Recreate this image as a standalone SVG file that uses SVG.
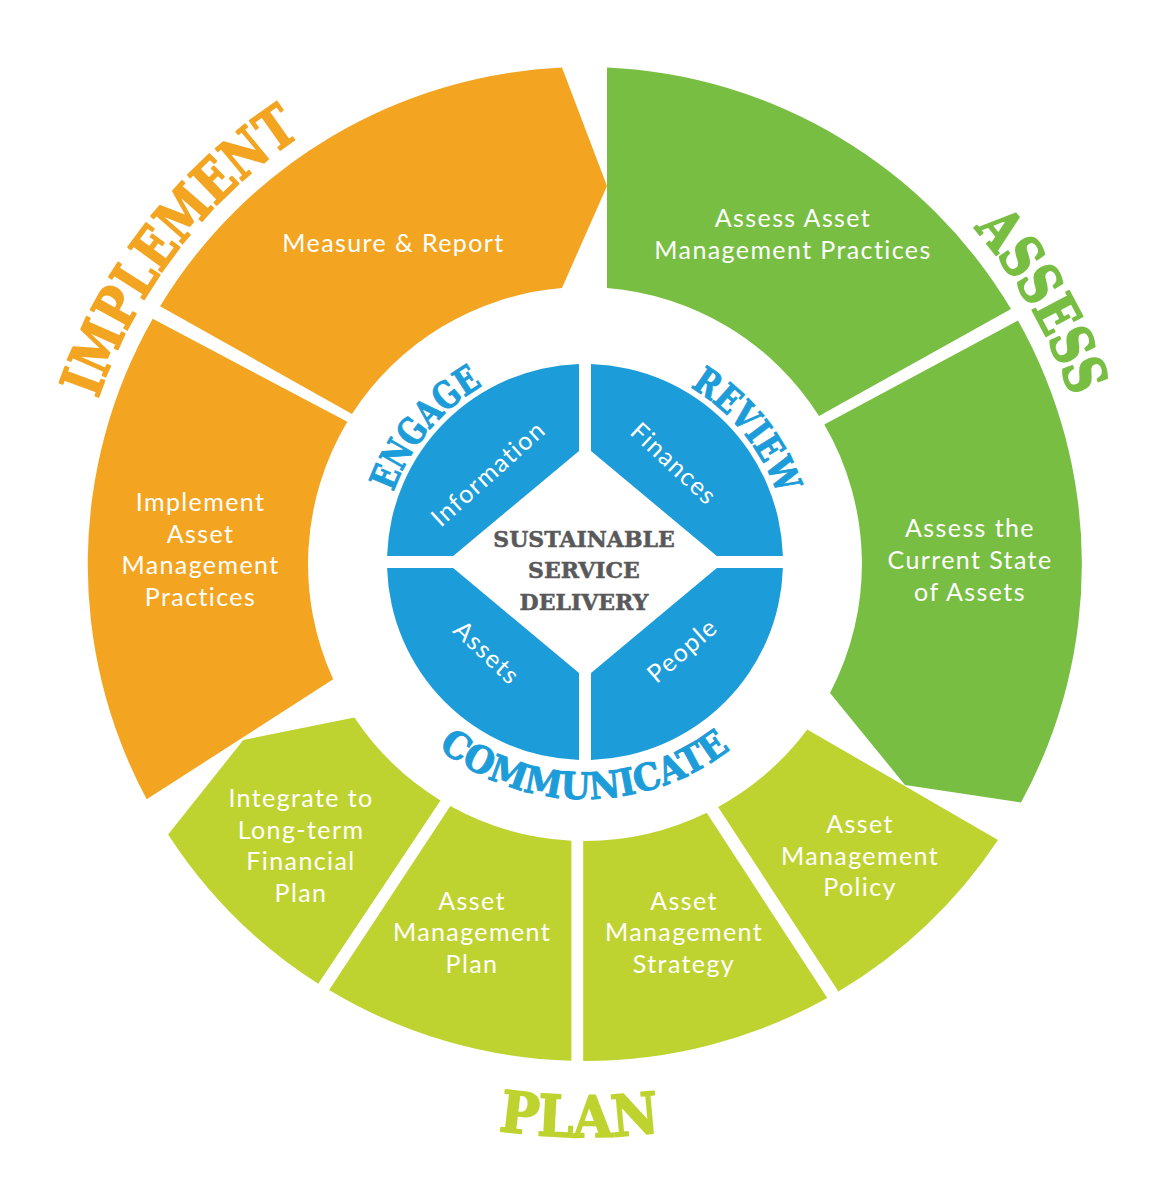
<svg xmlns="http://www.w3.org/2000/svg" width="1169" height="1183" viewBox="0 0 1169 1183">
<style>
.orange{fill:#F3A521}
.green{fill:#78BE43}
.lime{fill:#BFD330}
.blue{fill:#1C9CD8}
.lbl{font-family:Lato,"Open Sans","Liberation Sans",sans-serif;font-size:25px;fill:#fff;text-anchor:middle;letter-spacing:1.4px}
.slab{font-family:"DejaVu Serif","Liberation Serif",serif;font-weight:bold}
.big{font-size:57px;stroke-width:1.8px;stroke-linejoin:round}
.mid{font-size:37px;fill:#1C9CD8;stroke:#1C9CD8;stroke-width:1px;stroke-linejoin:round}
.core{font-size:22px;fill:#59595B;stroke:#59595B;stroke-width:0.5px;text-anchor:middle}
</style>
<defs>
<path id="arcImplement" d="M98,399 A514,514 0 0 1 301.3,135.4"/>
<path id="arcAssess" d="M974.1,228.2 A514,514 0 0 1 1071,396.6"/>
<path id="arcPlan" d="M389,1102.4 A573,573 0 0 0 781,1102.4"/>
<path id="arcEngage" d="M393.3,492.2 A204,204 0 0 1 483,385.3"/>
<path id="arcReview" d="M690.1,387.1 A204,204 0 0 1 777.9,495.6"/>
<path id="arcCommunicate" d="M438.1,748 A237,237 0 0 0 730.9,748.8"/>
</defs>
<rect width="1169" height="1183" fill="#fff"/>

<g id="implement-phase">
  <g id="measure-report">
    <path class="orange" d="M160.1,306.2 A497,497 0 0 1 562,67.5 L607,186 L562,288 A277,277 0 0 0 352,414 Z"/>
    <text class="lbl" x="393.5" y="252">Measure &amp; Report</text>
  </g>
  <g id="implement-practices">
    <path class="orange" d="M146.7,799.3 A497,497 0 0 1 152.7,318.8 L347.3,421.8 A277,277 0 0 0 333.2,679.3 Z"/>
    <text class="lbl" x="200.5" y="511"><tspan x="200.5">Implement</tspan><tspan x="200.5" dy="31.7">Asset</tspan><tspan x="200.5" dy="31.7">Management</tspan><tspan x="200.5" dy="31.7">Practices</tspan></text>
  </g>
  <text class="slab big" fill="#F3A521" stroke="#F3A521"><textPath href="#arcImplement" textLength="339" lengthAdjust="spacingAndGlyphs">IMPLEMENT</textPath></text>
</g>

<g id="assess-phase">
  <g id="assess-practices">
    <path class="green" d="M607,67.5 A497,497 0 0 1 1011,309 L819,416 A277,277 0 0 0 607,288 Z"/>
    <text class="lbl" x="793" y="226.6"><tspan x="793">Assess Asset</tspan><tspan x="793" dy="32">Management Practices</tspan></text>
  </g>
  <g id="assess-current-state">
    <path class="green" d="M1018,320.5 A497,497 0 0 1 1021,802.5 L905,785 L830,693 A277,277 0 0 0 824.3,424.6 Z"/>
    <text class="lbl" x="970" y="536.5"><tspan x="970">Assess the</tspan><tspan x="970" dy="32.3">Current State</tspan><tspan x="970" dy="32.3">of Assets</tspan></text>
  </g>
  <text class="slab big" fill="#78BE43" stroke="#78BE43"><textPath href="#arcAssess" textLength="196" lengthAdjust="spacingAndGlyphs">ASSESS</textPath></text>
</g>

<g id="plan-phase">
  <g id="am-policy">
    <path class="lime" d="M998,840 A497,497 0 0 1 838.4,991.5 L718.1,806.9 A277,277 0 0 0 807.2,729.4 Z"/>
    <text class="lbl" x="860" y="833.3"><tspan x="860">Asset</tspan><tspan x="860" dy="31.4">Management</tspan><tspan x="860" dy="31.4">Policy</tspan></text>
  </g>
  <g id="am-strategy">
    <path class="lime" d="M827.3,998 A497,497 0 0 1 583.2,1061 L583.2,841 A277,277 0 0 0 706.7,812.8 Z"/>
    <text class="lbl" x="684" y="909.6"><tspan x="684">Asset</tspan><tspan x="684" dy="31.7">Management</tspan><tspan x="684" dy="31.7">Strategy</tspan></text>
  </g>
  <g id="am-plan">
    <path class="lime" d="M571.4,1060.8 A497,497 0 0 1 329.1,990 L450.3,806.1 A277,277 0 0 0 571.4,840.7 Z"/>
    <text class="lbl" x="472" y="909.6"><tspan x="472">Asset</tspan><tspan x="472" dy="31.7">Management</tspan><tspan x="472" dy="31.7">Plan</tspan></text>
  </g>
  <g id="integrate-ltfp">
    <path class="lime" d="M318.3,983.8 A497,497 0 0 1 168.1,834.5 L243.3,740 L354.4,717.5 A277,277 0 0 0 440.5,800.4 Z"/>
    <text class="lbl" x="301" y="807"><tspan x="301">Integrate to</tspan><tspan x="301" dy="31.6">Long-term</tspan><tspan x="301" dy="31.6">Financial</tspan><tspan x="301" dy="31.6">Plan</tspan></text>
  </g>
  <text class="slab big" fill="#BFD330" stroke="#BFD330" text-anchor="middle"><textPath href="#arcPlan" startOffset="194" textLength="162" lengthAdjust="spacingAndGlyphs">PLAN</textPath></text>
</g>

<g id="core">
  <g id="information">
    <path class="blue" d="M579,364.1 L579,451 L453.2,556 L387.1,556 A198,198 0 0 1 579,364.1 Z"/>
    <text class="lbl" transform="translate(494,480) rotate(-42)">Information</text>
  </g>
  <g id="finances">
    <path class="blue" d="M591,364.1 A198,198 0 0 1 782.9,556 L716.8,556 L591,451 Z"/>
    <text class="lbl" transform="translate(668,470) rotate(43)">Finances</text>
  </g>
  <g id="assets">
    <path class="blue" d="M387.1,568 L453.2,568 L579,673 L579,759.9 A198,198 0 0 1 387.1,568 Z"/>
    <text class="lbl" transform="translate(481,659) rotate(43)">Assets</text>
  </g>
  <g id="people">
    <path class="blue" d="M591,673 L716.8,568 L782.9,568 A198,198 0 0 1 591,759.9 Z"/>
    <text class="lbl" transform="translate(688,657) rotate(-41)">People</text>
  </g>
  <text class="slab core" x="584" y="546.7"><tspan x="584">SUSTAINABLE</tspan><tspan x="584" y="578.3">SERVICE</tspan><tspan x="584" y="610">DELIVERY</tspan></text>
  <text class="slab mid"><textPath href="#arcEngage" textLength="142" lengthAdjust="spacingAndGlyphs">ENGAGE</textPath></text>
  <text class="slab mid"><textPath href="#arcReview" textLength="142" lengthAdjust="spacingAndGlyphs">REVIEW</textPath></text>
  <text class="slab mid"><textPath href="#arcCommunicate" textLength="315" lengthAdjust="spacingAndGlyphs">COMMUNICATE</textPath></text>
</g>

<g id="connectors"/>
</svg>
